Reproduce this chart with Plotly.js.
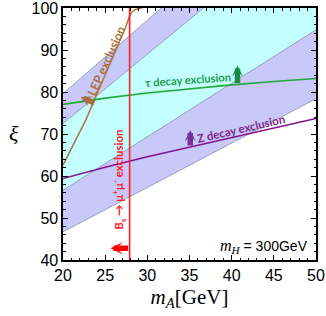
<!DOCTYPE html>
<html><head><meta charset="utf-8">
<script src="https://cdn.plot.ly/plotly-3.0.1.min.js"></script>
<style>html,body{margin:0;padding:0;background:#fff}</style>
</head><body><div id="chart" style="width:326px;height:316px"></div>
<script>
// band edges (straight lines read at m_A = 20 and 50)
const bandM = [20, 50];
const edge1 = [79.6, 132.1];  // top of upper blue band
const edge2 = [72.5, 122.0];  // top of cyan band
const edge3 = [56.6, 94.8];   // bottom of cyan band
const edge4 = [46.7, 78.4];   // bottom of lower blue band

// LEP exclusion curve
const lepM  = [20.0, 20.5, 21.5, 22.7, 23.7, 25.07, 26.45, 27.43, 27.8, 28.1, 28.5, 29.2, 30.0];
const lepXi = [62.6, 64.6, 68.5, 73.3, 78.0, 84.3, 90.7, 95.4, 97.6, 98.9, 99.6, 100.0, 100.4];

// tau decay exclusion
const tauM  = [20, 25, 30, 35, 40, 45, 50];
const tauXi = [77.05, 78.55, 79.75, 80.8, 81.7, 82.5, 83.2];

// Z decay exclusion
const zM  = [20, 25, 30, 35, 40, 45, 50];
const zXi = [59.4, 62.1, 64.6, 66.9, 69.2, 71.5, 73.7];

// Bs -> mu mu exclusion
const bsM  = [27.9, 27.9];
const bsXi = [40, 100];

const xTicks = [20, 25, 30, 35, 40, 45, 50];
const yTicks = [40, 50, 60, 70, 80, 90, 100];

const lav = 'rgb(200,200,249)', cyan = 'rgb(196,255,255)', edgeCol = 'rgb(140,140,175)';
function band(hi, lo, color) {
  return {x: bandM.concat(bandM.slice().reverse()), y: hi.concat(lo.slice().reverse()),
    type: 'scatter', mode: 'lines', fill: 'toself', fillcolor: color,
    line: {width: 0}, hoverinfo: 'skip', showlegend: false};
}
function edge(v) {
  return {x: bandM, y: v, type: 'scatter', mode: 'lines',
    line: {color: edgeCol, width: 0.8}, showlegend: false};
}
const traces = [
  band(edge1, edge2, lav), band(edge2, edge3, cyan), band(edge3, edge4, lav),
  edge(edge1), edge(edge2), edge(edge3), edge(edge4),
  {x: lepM, y: lepXi, type: 'scatter', mode: 'lines', line: {color: 'rgb(176,122,70)', width: 1.6}, showlegend: false},
  {x: tauM, y: tauXi, type: 'scatter', mode: 'lines', line: {color: 'rgb(30,170,60)', width: 1.6}, showlegend: false},
  {x: zM, y: zXi, type: 'scatter', mode: 'lines', line: {color: 'rgb(130,20,140)', width: 1.6}, showlegend: false},
  {x: bsM, y: bsXi, type: 'scatter', mode: 'lines', line: {color: 'rgb(255,30,30)', width: 1.6}, showlegend: false}
];

const lblFont = (c, s) => ({family: 'Lato, "Liberation Sans", sans-serif', size: s || 11.5, color: c});
function arrow(x, y, ax, ay, c, w, s) {
  return {x: x, y: y, ax: ax, ay: ay, xref: 'x', yref: 'y', axref: 'x', ayref: 'y',
    text: '', showarrow: true, arrowhead: 3, arrowsize: s, arrowwidth: w, arrowcolor: c,
    standoff: 0, startstandoff: 0};
}
const annotations = [
  {x: 25.1, y: 87.3, xref: 'x', yref: 'y', text: '<b>LEP exclusion</b>', textangle: -66,
   showarrow: false, font: lblFont('rgb(170,116,63)', 12.3)},
  {x: 34.79, y: 83.0, xref: 'x', yref: 'y', text: '<b>τ decay exclusion</b>', textangle: -4,
   showarrow: false, font: lblFont('rgb(26,160,80)', 11.2)},
  {x: 41.12, y: 71.35, xref: 'x', yref: 'y', text: '<b>Z decay exclusion</b>', textangle: -13,
   showarrow: false, font: lblFont('rgb(123,42,139)')},
  {x: 26.6, y: 59.0, xref: 'x', yref: 'y', text: '<b>B<sub>s</sub> → μ<sup>+</sup>μ<sup>-</sup> exclusion</b>', textangle: -90,
   showarrow: false, font: lblFont('rgb(255,32,32)')},
  arrow(40.69, 86.3, 40.69, 81.8, 'rgb(26,140,70)', 5.5, 0.34),
  arrow(35.09, 70.9, 35.09, 66.9, 'rgb(120,50,150)', 5.5, 0.34),
  arrow(22.1, 78.8, 23.9, 77.2, 'rgb(165,112,62)', 5.5, 0.34),
  arrow(25.63, 42.8, 27.9, 42.8, 'rgb(255,0,0)', 5.5, 0.38),
  {x: 49.3, y: 43.2, xref: 'x', yref: 'y', xanchor: 'right', yanchor: 'middle', showarrow: false,
   text: '<span style="font-family:\'Liberation Serif\';font-size:16px"><i>m</i><sub><i>H</i></sub></span> = 300GeV',
   font: {family: '"Liberation Sans", sans-serif', size: 14, color: '#000'}},
  {x: -0.195, y: 0.503, xref: 'paper', yref: 'paper', showarrow: false, xanchor: 'center', yanchor: 'middle',
   text: '<i>ξ</i>', font: {family: '"Liberation Serif", serif', size: 22, color: '#000'}}
];

const axisCommon = {
  showline: true, linecolor: '#000', linewidth: 1.6, mirror: 'allticks',
  ticks: 'inside', ticklen: 5, tickwidth: 1, tickcolor: '#000',
  showgrid: false, zeroline: false, ticklabeloverflow: 'allow',
  tickfont: {family: '"Liberation Sans", Arial, sans-serif', size: 16, color: '#000'}
};
const layout = {
  width: 326, height: 316,
  margin: {l: 63, r: 10, t: 8, b: 56},
  paper_bgcolor: '#fff', plot_bgcolor: '#fff',
  showlegend: false,
  xaxis: Object.assign({}, axisCommon, {range: [20, 50], tickvals: xTicks, ticktext: xTicks.map(String),
    minor: {ticks: 'inside', ticklen: 2.5, dtick: 1, tick0: 20, tickcolor: '#000', showgrid: false},
    title: {text: '<i>m</i><sub><i>A</i></sub>[GeV]', standoff: 6,
      font: {family: '"Liberation Serif", serif', size: 21, color: '#000'}}}),
  yaxis: Object.assign({}, axisCommon, {range: [40, 100], tickvals: yTicks, ticktext: yTicks.map(String),
    minor: {ticks: 'inside', ticklen: 2.5, dtick: 2, tick0: 40, tickcolor: '#000', showgrid: false}}),
  annotations: annotations
};
Plotly.newPlot('chart', traces, layout, {displayModeBar: false, staticPlot: true});
</script></body></html>
